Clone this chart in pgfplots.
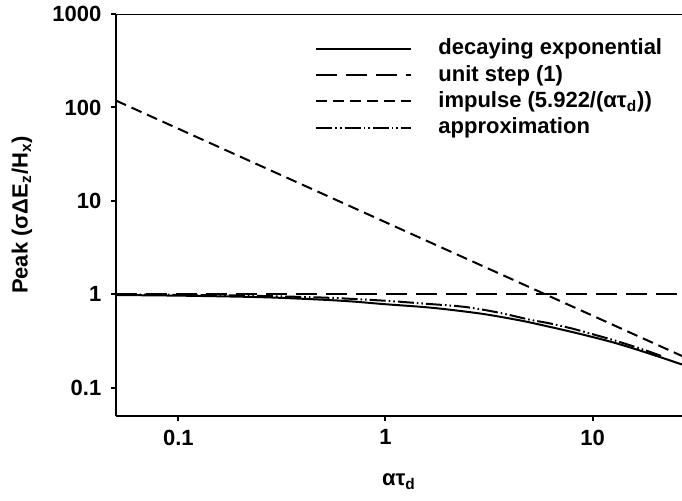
\documentclass[border=0pt]{standalone}
\usepackage{fontspec}
\setmainfont{Liberation Sans}
\usepackage{pgfplots}
\pgfplotsset{compat=1.18}
\begin{document}
\fontsize{11}{13}\selectfont\bfseries
\begin{tikzpicture}
\begin{axis}[
  at={(0,0)}, anchor=south west,
  width=283pt, height=201pt, scale only axis,
  xmode=log, ymode=log,
  xmin=0.05, xmax=27, ymin=0.05, ymax=1000,
  axis lines=left,
  x axis line style={-, line width=1pt},
  y axis line style={-, line width=1pt},
  xtick={0.1,1,10}, xticklabels={0.1,1,10},
  ytick={0.1,1,10,100,1000}, yticklabels={0.1,1,10,100,1000},
  minor tick length=0pt,
  tick align=outside, major tick length=2.5pt,
  major tick style={line width=1pt, black},
  ticklabel style={font=\fontsize{11}{13}\selectfont\bfseries},
  xticklabel style={yshift=-0.5pt},
  yticklabel style={xshift=-1pt},
  xlabel={ατ\textsubscript{d}},
  ylabel={Peak (σΔE\textsubscript{z}/H\textsubscript{x})},
  xlabel style={at={(axis description cs:0.5,-0.164)}, anchor=center, font=\fontsize{11}{13}\selectfont\bfseries},
  ylabel style={at={(axis description cs:-0.166,0.5)}, anchor=center, rotate=0, font=\fontsize{11}{13}\selectfont\bfseries},
  legend style={at={(rel axis cs:0.3516,0.948)}, anchor=north west, draw=none, fill=none,
    font=\fontsize{11}{13}\selectfont\bfseries, row sep=0pt, inner sep=0pt,
    nodes={text height=8.7pt, text depth=2.5pt, inner sep=1pt},
    /tikz/every odd column/.append style={column sep=12pt}},
  legend cell align=left,
  legend image code/.code={\draw[#1] (0pt,0pt) -- (47.5pt,0pt);},
]
\addplot[black, line width=1pt, smooth] coordinates {
(0.05,0.985) (0.1,0.97) (0.2,0.945) (0.3,0.922) (0.5,0.877) (0.7,0.838) (1,0.785)
(1.5,0.735) (2,0.69) (3,0.615) (4.5,0.525) (6.2,0.45) (8,0.395) (10,0.35)
(13,0.30) (18,0.24) (27,0.178)};
\addlegendentry{decaying exponential}
\addplot[black, line width=1pt, dash pattern=on 10.5pt off 4.5pt] coordinates {(0.05,1) (27,1)};
\addlegendentry{unit step (1)}
\addplot[black, line width=1pt, dash pattern=on 5.5pt off 3pt] coordinates {(0.05,118.44) (27,0.2193)};
\addlegendentry{impulse (5.922/(ατ\textsubscript{d}))}
\addplot[black, line width=1pt, smooth, dash pattern=on 8pt off 1.5pt on 0.8pt off 1.5pt on 0.8pt off 1.5pt] coordinates {
(0.05,1.0) (0.1,0.99) (0.2,0.972) (0.5,0.925) (1,0.855) (1.5,0.8) (2.4,0.736)
(3.5,0.64) (5,0.535) (6.2,0.49) (8,0.43) (10,0.375) (13,0.318) (18,0.252) (22,0.215)};
\addlegendentry{approximation}
\draw[line width=1pt] (rel axis cs:0,1) -- (rel axis cs:1,1);
\end{axis}
\pgfresetboundingbox
\path[use as bounding box] (-58pt,-42pt) rectangle (283pt,208pt);
\end{tikzpicture}
\end{document}
